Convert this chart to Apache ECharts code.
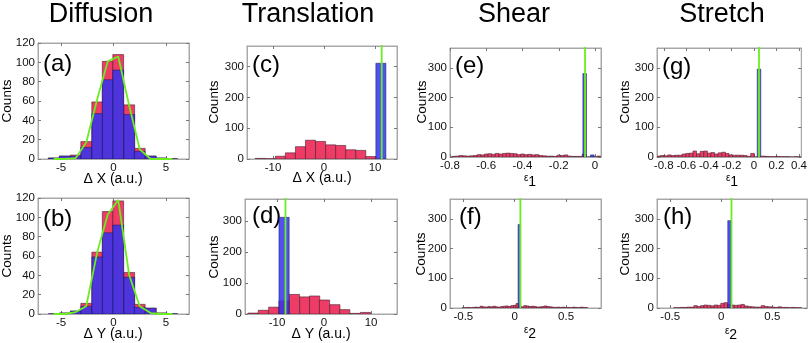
<!DOCTYPE html>
<html>
<head>
<meta charset="utf-8">
<script src="https://cdn.jsdelivr.net/npm/echarts@6/dist/echarts.min.js"></script>
<style>html,body{margin:0;padding:0;background:#fff}#c{width:810px;height:343px}</style>
</head>
<body>
<div id="c"></div>
<script>
// ---------------- DATA ----------------
// Diffusion (a) ΔX and (b) ΔY histograms
const diff_centers = [-5.7, -4.65, -3.6, -2.6, -1.55, -0.55, 0.45, 1.5, 2.5, 3.55, 4.6, 5.6];
const diffX_red  = [1, 3, 4, 18, 59, 101, 108, 56, 11, 3, 1, 0];
const diffX_blue = [1, 3, 3, 12, 47, 82, 92, 46, 8, 3, 1, 0];
const diffX_fit  = [0, 0, 1, 17, 62, 101, 106, 55, 10, 0, 0, 0];
const diffY_red  = [0, 1, 3, 11, 64, 106, 117, 43, 10, 6, 1, 0];
const diffY_blue = [0, 1, 3, 8, 59, 84, 92, 38, 7, 6, 1, 0];
const diffY_fit  = [0, 0, 2, 8, 64, 103, 118, 40, 8, 1, 0, 0];

// Translation (c) ΔX
const transX_centers = [-12.5, -10.53, -8.56, -6.59, -4.62, -2.65, -0.68, 1.29, 3.26, 5.23, 7.2, 9.17];
const transX_red  = [2, 1, 9, 20, 40, 61, 57, 46, 44, 30, 28, 8];
const transX_blueX = [11.14];
const transX_blue  = [311];
const transX_fitX = [11.3, 11.3];
const transX_fitY = [0, 400];

// Translation (d) ΔY
const transY_centers = [-15.1, -12.9, -10.7, -8.5, -6.3, -4.1, -2.0, 0.1, 2.3, 4.4, 6.6, 8.8];
const transY_red  = [3, 12, 22, 42, 63, 55, 58, 45, 30, 14, 2, 5];
const transY_blueX = [-8.5];
const transY_blue  = [311];
const transY_fitX = [-8.2, -8.2];
const transY_fitY = [0, 400];

// Shear (e) ε1
const shear1_centers = [-0.78, -0.76, -0.74, -0.72, -0.70, -0.68, -0.66, -0.64, -0.62, -0.60,
  -0.58, -0.56, -0.54, -0.52, -0.50, -0.48, -0.46, -0.44, -0.42, -0.40,
  -0.38, -0.36, -0.34, -0.32, -0.30, -0.28, -0.26, -0.24, -0.22, -0.20,
  -0.18, -0.16, -0.14, -0.12, -0.10, -0.08, -0.06, -0.04, -0.02, 0.00, 0.02];
const shear1_red = [2, 3, 5, 4, 3, 4, 5, 8, 7, 10,
  11, 9, 12, 10, 12, 13, 12, 11, 8, 10,
  8, 9, 7, 8, 5, 4, 3, 3, 2, 6,
  5, 7, 3, 2, 2, 2, 10, 0, 0, 0, 3];
const shear1_blueX = [-0.057, -0.015];
const shear1_blue  = [281, 7];
const shear1_fitX = [-0.055, -0.055];
const shear1_fitY = [0, 400];

// Shear (f) ε2
const shear2_centers = [-0.5, -0.475, -0.45, -0.425, -0.4, -0.375, -0.35, -0.325, -0.3, -0.275,
  -0.25, -0.225, -0.2, -0.175, -0.15, -0.125, -0.1, -0.075, -0.05, -0.025,
  0.0, 0.025, 0.05, 0.075, 0.1, 0.125, 0.15, 0.175, 0.2, 0.225,
  0.25, 0.275, 0.3, 0.325, 0.35, 0.375, 0.4, 0.425, 0.45, 0.475,
  0.5, 0.525, 0.55, 0.575, 0.6, 0.625, 0.65, 0.675, 0.7];
const shear2_red = [1, 1, 2, 1, 2, 3, 2, 6, 4, 3,
  5, 4, 6, 4, 3, 5, 6, 7, 5, 8,
  9, 15, 6, 4, 8, 7, 5, 6, 5, 3,
  4, 5, 7, 5, 4, 3, 2, 3, 2, 3,
  1, 2, 1, 3, 2, 1, 3, 2, 1];
const shear2_blueX = [0.045];
const shear2_blue  = [281];
const shear2_fitX = [0.055, 0.055];
const shear2_fitY = [0, 400];

// Stretch (g) ε1
const stretch1_centers = [-0.845, -0.813, -0.781, -0.749, -0.717, -0.685, -0.653, -0.621, -0.589, -0.557,
  -0.525, -0.493, -0.461, -0.429, -0.397, -0.365, -0.333, -0.301, -0.269, -0.237,
  -0.205, -0.173, -0.141, -0.109, -0.077, -0.045, -0.013, 0.019, 0.051, 0.083,
  0.115, 0.147, 0.179, 0.211, 0.243, 0.275, 0.307, 0.339, 0.371, 0.403];
const stretch1_red = [3, 5, 4, 7, 5, 6, 6, 10, 12, 13,
  20, 11, 19, 20, 13, 15, 10, 14, 16, 12,
  7, 6, 6, 6, 5, 2, 12, 0, 0, 3,
  2, 1, 1, 2, 1, 1, 1, 0, 1, 0];
const stretch1_blueX = [0.045];
const stretch1_blue  = [296];
const stretch1_fitX = [0.045, 0.045];
const stretch1_fitY = [0, 400];

// Stretch (h) ε2
const stretch2_centers = [-0.45, -0.417, -0.384, -0.351, -0.318, -0.285, -0.252, -0.219, -0.186, -0.153,
  -0.12, -0.087, -0.054, -0.021, 0.012, 0.045, 0.078, 0.111, 0.144, 0.177,
  0.21, 0.243, 0.276, 0.309, 0.342, 0.375, 0.408, 0.441, 0.474, 0.507,
  0.54, 0.573, 0.606, 0.639, 0.672, 0.705, 0.738, 0.771];
const stretch2_red = [1, 1, 2, 2, 3, 3, 8, 5, 8, 10,
  9, 7, 10, 9, 16, 18, 12, 10, 9, 10,
  12, 7, 5, 4, 3, 3, 8, 5, 4, 3,
  2, 4, 2, 2, 1, 2, 1, 1];
const stretch2_blueX = [0.08];
const stretch2_blue  = [294];
const stretch2_fitX = [0.1, 0.1];
const stretch2_fitY = [0, 400];

// tick labels
const diff_xticks = [-5, 0, 5];
const trans_xticks = [-10, 0, 10];
const shear1_xticks = [-0.8, -0.6, -0.4, -0.2, 0];
const stretch1_xticks = [-0.8, -0.6, -0.4, -0.2, 0, 0.2, 0.4];
const eps2_xticks = [-0.5, 0, 0.5];
const diff_yticks = [0, 20, 40, 60, 80, 100, 120];
const count_yticks = [0, 100, 200, 300];

// text
const colTitles = ['Diffusion', 'Translation', 'Shear', 'Stretch'];
const panelLetters = ['(a)', '(b)', '(c)', '(d)', '(e)', '(f)', '(g)', '(h)'];
const yName = 'Counts';

// ---------------- LAYOUT / STYLE ----------------
const FONT = '"Liberation Sans", Arial, Helvetica, sans-serif';
const RED = '#ee3c66', BLUE = '#3232f0', GREEN = '#6aee1e', BOX = '#a8a8a8';
const TICKFS = 11.5;

const panels = [
  {rect:[38,43,151,116], xr:[-7.2,7.2], yr:[0,120], xt:diff_xticks, yt:diff_yticks,
   rc:diff_centers, r:diffX_red, rw:1.03, bc:diff_centers, b:diffX_blue, bw:1.03, fx:diff_centers, fy:diffX_fit},
  {rect:[38,198,151,116], xr:[-7.2,7.2], yr:[0,120], xt:diff_xticks, yt:diff_yticks,
   rc:diff_centers, r:diffY_red, rw:1.03, bc:diff_centers, b:diffY_blue, bw:1.03, fx:diff_centers, fy:diffY_fit},
  {rect:[247,46,150,113], xr:[-15.1,14.3], yr:[0,367], xt:trans_xticks, yt:count_yticks,
   rc:transX_centers, r:transX_red, rw:1.97, bc:transX_blueX, b:transX_blue, bw:1.97, fx:transX_fitX, fy:transX_fitY},
  {rect:[245,199,152,115], xr:[-16.8,15.5], yr:[0,370], xt:trans_xticks, yt:count_yticks,
   rc:transY_centers, r:transY_red, rw:2.17, bc:transY_blueX, b:transY_blue, bw:2.17, fx:transY_fitX, fy:transY_fitY},
  {rect:[450,48,151,109], xr:[-0.8,0.033], yr:[0,367], xt:shear1_xticks, yt:count_yticks,
   rc:shear1_centers, r:shear1_red, rw:0.02, bc:shear1_blueX, b:shear1_blue, bw:0.02, fx:shear1_fitX, fy:shear1_fitY},
  {rect:[450,199,151,109], xr:[-0.63,0.84], yr:[0,367], xt:eps2_xticks, yt:count_yticks,
   rc:shear2_centers, r:shear2_red, rw:0.025, bc:shear2_blueX, b:shear2_blue, bw:0.025, fx:shear2_fitX, fy:shear2_fitY},
  {rect:[657,48,146,109], xr:[-0.86,0.42], yr:[0,367], xt:stretch1_xticks, yt:count_yticks,
   rc:stretch1_centers, r:stretch1_red, rw:0.032, bc:stretch1_blueX, b:stretch1_blue, bw:0.032, fx:stretch1_fitX, fy:stretch1_fitY},
  {rect:[657,199,150,109], xr:[-0.63,0.84], yr:[0,367], xt:eps2_xticks, yt:count_yticks,
   rc:stretch2_centers, r:stretch2_red, rw:0.033, bc:stretch2_blueX, b:stretch2_blue, bw:0.033, fx:stretch2_fitX, fy:stretch2_fitY}
];

const grid = [], xAxis = [], yAxis = [], series = [];

function barRender(w, fill, stroke, opacity) {
  return function (params, api) {
    const x = api.value(0), y = api.value(1);
    const p0 = api.coord([x - w / 2, y]);
    const p1 = api.coord([x + w / 2, 0]);
    return {
      type: 'rect',
      shape: {x: p0[0], y: p0[1], width: p1[0] - p0[0], height: p1[1] - p0[1]},
      style: {fill: fill, stroke: stroke, lineWidth: 0.6, opacity: opacity}
    };
  };
}

panels.forEach((p, i) => {
  grid.push({left: p.rect[0], top: p.rect[1], width: p.rect[2], height: p.rect[3],
             show: true, borderColor: BOX, borderWidth: 1, backgroundColor: '#fff'});
  const tickStyle = {lineStyle: {color: '#777', width: 1}};
  const lineStyle = {show: true, onZero: false, lineStyle: {color: BOX, width: 1}};
  xAxis.push({type: 'value', gridIndex: i, min: p.xr[0], max: p.xr[1], position: 'bottom',
    axisLine: lineStyle, splitLine: {show: false},
    axisTick: Object.assign({inside: true, length: 3, customValues: p.xt}, tickStyle),
    axisLabel: {customValues: p.xt, margin: 3, fontSize: TICKFS, color: '#111', fontFamily: FONT,
                formatter: v => String(v)}});
  xAxis.push({type: 'value', gridIndex: i, min: p.xr[0], max: p.xr[1], position: 'top',
    axisLine: lineStyle, splitLine: {show: false},
    axisTick: Object.assign({inside: true, length: 3, customValues: p.xt}, tickStyle),
    axisLabel: {show: false}});
  yAxis.push({type: 'value', gridIndex: i, min: p.yr[0], max: p.yr[1], position: 'left',
    axisLine: lineStyle, splitLine: {show: false},
    axisTick: Object.assign({inside: true, length: 3, customValues: p.yt}, tickStyle),
    axisLabel: {customValues: p.yt, margin: 3, fontSize: TICKFS, color: '#111', fontFamily: FONT}});
  yAxis.push({type: 'value', gridIndex: i, min: p.yr[0], max: p.yr[1], position: 'right',
    axisLine: lineStyle, splitLine: {show: false},
    axisTick: Object.assign({inside: true, length: 3, customValues: p.yt}, tickStyle),
    axisLabel: {show: false}});
  const xi = 2 * i, yi = 2 * i;
  series.push({type: 'custom', xAxisIndex: xi, yAxisIndex: yi, clip: true, silent: true,
    renderItem: barRender(p.rw, RED, '#4a2030', 1),
    data: p.rc.map((c, k) => [c, p.r[k]])});
  series.push({type: 'custom', xAxisIndex: xi, yAxisIndex: yi, clip: true, silent: true,
    renderItem: barRender(p.bw, BLUE, '#1a1a50', 0.85),
    data: p.bc.map((c, k) => [c, p.b[k]])});
  series.push({type: 'line', xAxisIndex: xi, yAxisIndex: yi, clip: true, silent: true,
    showSymbol: false, symbol: 'none', animation: false,
    lineStyle: {color: GREEN, width: 1.8},
    data: p.fx.map((c, k) => [c, p.fy[k]])});
});

const graphic = [];
function txt(text, x, y, size, extra) {
  graphic.push(Object.assign({type: 'text', x: x, y: y, silent: true,
    style: {text: text, font: size + 'px ' + FONT, fill: '#000', align: 'center', verticalAlign: 'middle'}}, extra || {}));
}
// column titles
txt(colTitles[0], 101, 15, 27);
txt(colTitles[1], 308, 15, 27);
txt(colTitles[2], 514, 15, 27);
txt(colTitles[3], 722, 15, 27);
// panel letters
const letterPos = [[43,64],[43,219],[252,65],[252,216],[455,66],[459,217],[662,67],[663,217]];
letterPos.forEach((lp, i) => {
  graphic.push({type: 'text', x: lp[0], y: lp[1], silent: true,
    style: {text: panelLetters[i], font: '24px ' + FONT, fill: '#000', align: 'left', verticalAlign: 'middle'}});
});
// Counts labels
const countsPos = [[7,101],[7,256],[214,102],[214,257],[422,102],[421,254],[625,102],[625,254]];
countsPos.forEach(cp => txt(yName, cp[0], cp[1], 13.5, {rotation: Math.PI / 2}));
// x labels
txt('Δ X (a.u.)', 113, 179, 14);
txt('Δ Y (a.u.)', 113, 334, 14);
txt('Δ X (a.u.)', 322, 178, 14);
txt('Δ Y (a.u.)', 321, 334, 14);
function eps(sub, x, y) {
  graphic.push({type: 'text', x: x, y: y, silent: true,
    style: {text: '{e|ε}{n|' + sub + '}', align: 'center', verticalAlign: 'middle',
      rich: {e: {fontSize: 10, fontFamily: FONT, fill: '#000', verticalAlign: 'top', lineHeight: 16},
             n: {fontSize: 14, fontFamily: FONT, fill: '#000', verticalAlign: 'bottom', lineHeight: 16}}}});
}
eps('1', 530, 181);
eps('2', 530, 333);
eps('1', 732, 181);
eps('2', 731, 334);

const chart = echarts.init(document.getElementById('c'), null, {renderer: 'canvas'});
chart.setOption({
  animation: false,
  backgroundColor: '#fff',
  grid: grid, xAxis: xAxis, yAxis: yAxis, series: series, graphic: graphic
});
</script>
</body>
</html>
